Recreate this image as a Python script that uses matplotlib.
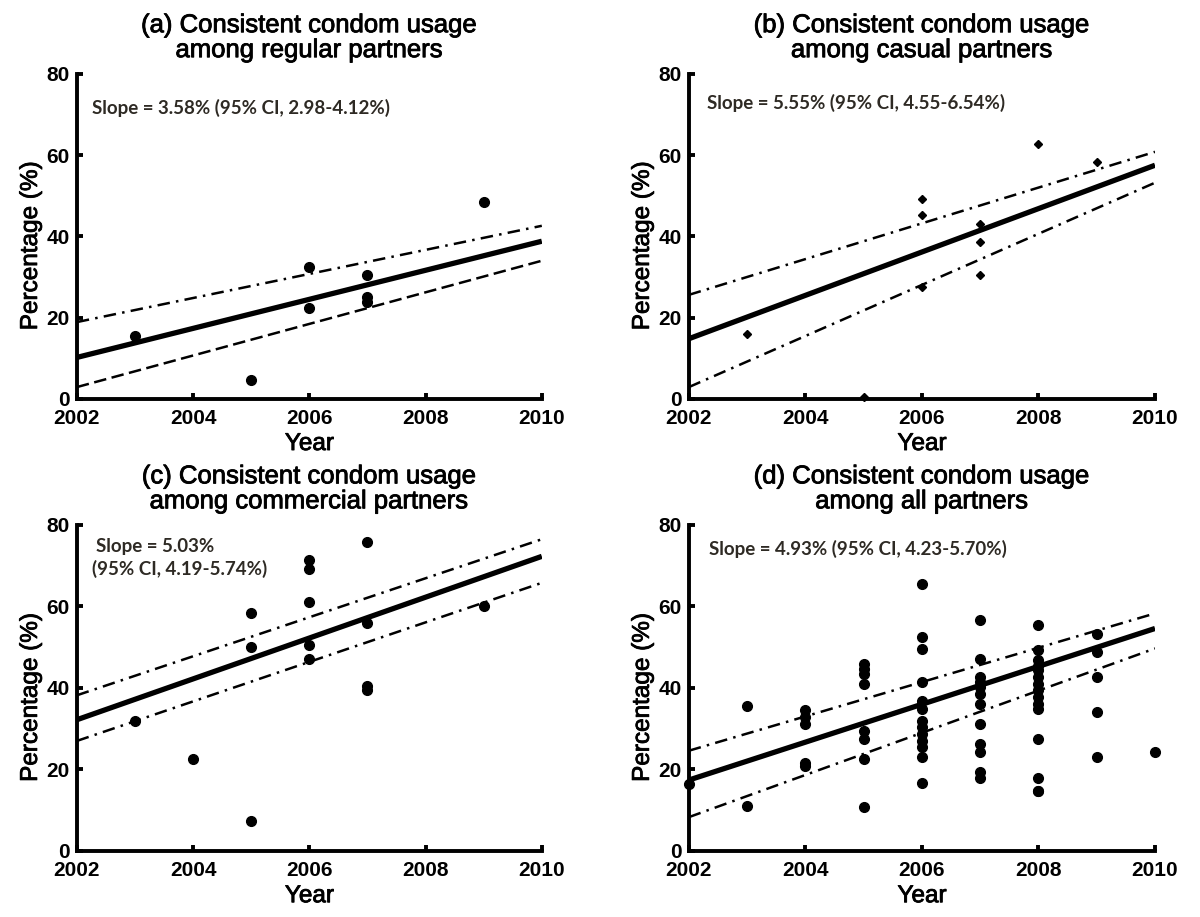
import matplotlib
matplotlib.use('Agg')
import matplotlib.pyplot as plt
import matplotlib.patheffects as pe

# (a) regular partners
a_years = [2003, 2005, 2006, 2006, 2007, 2007, 2007, 2009]
a_vals = [15.6, 4.6, 32.4, 22.3, 30.4, 25.0, 23.9, 48.5]
a_fit = [10.2, 38.8]
a_upper = [18.9, 42.6]
a_lower = [2.9, 34.0]

# (b) casual partners
b_years = [2003, 2005, 2006, 2006, 2006, 2007, 2007, 2007, 2008, 2009]
b_vals = [16.0, 0.5, 49.2, 45.2, 27.6, 43.0, 38.6, 30.4, 62.8, 58.4]
b_fit = [14.8, 57.5]
b_upper = [25.6, 60.8]
b_lower = [2.9, 53.2]

# (c) commercial partners
c_years = [2003, 2004, 2005, 2005, 2005, 2006, 2006, 2006, 2006, 2006,
           2007, 2007, 2007, 2007, 2009]
c_vals = [32.0, 22.6, 58.4, 50.0, 7.3, 71.5, 69.2, 61.2, 50.6, 47.2,
          75.8, 56.0, 40.5, 39.5, 60.0]
c_fit = [32.2, 72.3]
c_upper = [38.2, 76.5]
c_lower = [27.0, 65.8]

# (d) all partners
d_years = [2002,
           2003, 2003,
           2004, 2004, 2004, 2004, 2004,
           2005, 2005, 2005, 2005, 2005, 2005, 2005, 2005,
           2006, 2006, 2006, 2006, 2006, 2006, 2006, 2006, 2006, 2006,
           2006, 2006, 2006,
           2007, 2007, 2007, 2007, 2007, 2007, 2007, 2007, 2007, 2007,
           2007, 2007,
           2008, 2008, 2008, 2008, 2008, 2008, 2008, 2008, 2008, 2008,
           2008, 2008, 2008, 2008, 2008,
           2009, 2009, 2009, 2009, 2009,
           2010]
d_vals = [16.5,
          35.7, 11.1,
          34.5, 32.8, 31.2, 21.5, 20.9,
          45.9, 44.7, 43.5, 41.0, 29.5, 27.5, 22.6, 10.7,
          65.5, 52.5, 49.6, 41.4, 36.9, 34.9, 32.0, 30.4, 28.7, 27.0,
          25.4, 23.0, 16.8,
          56.6, 47.2, 42.7, 41.4, 40.2, 38.6, 36.1, 31.2, 26.2, 24.2,
          19.3, 18.0,
          55.4, 49.2, 46.8, 45.5, 44.3, 42.7, 41.0, 39.4, 37.7, 36.1,
          34.9, 27.5, 18.0, 14.8, 14.8,
          53.3, 48.8, 42.7, 34.0, 23.0,
          24.2]
d_fit = [17.4, 54.6]
d_upper = [24.6, 58.3]
d_lower = [8.3, 49.7]

fit_years = [2002, 2010]
x_ticks = [2002, 2004, 2006, 2008, 2010]
y_ticks = [0, 20, 40, 60, 80]

titles = ['(a) Consistent condom usage\namong regular partners',
          '(b) Consistent condom usage\namong casual partners',
          '(c) Consistent condom usage\namong commercial partners',
          '(d) Consistent condom usage\namong all partners']
# each slope note: list of (x, y, text) lines in data coords
slopes = [
    [(2002.26, 71.6, 'Slope = 3.58% (95% CI, 2.98-4.12%)')],
    [(2002.31, 72.9, 'Slope = 5.55% (95% CI, 4.55-6.54%)')],
    [(2002.33, 74.7, 'Slope = 5.03%'),
     (2002.26, 69.3, '(95% CI, 4.19-5.74%)')],
    [(2002.34, 74.1, 'Slope = 4.93% (95% CI, 4.23-5.70%)')],
]

panels = [
    (a_years, a_vals, a_fit, a_upper, a_lower, 'o', '--'),
    (b_years, b_vals, b_fit, b_upper, b_lower, 'D', '-.'),
    (c_years, c_vals, c_fit, c_upper, c_lower, 'o', '-.'),
    (d_years, d_vals, d_fit, d_upper, d_lower, 'o', '-.'),
]

# axes boxes in figure fractions (left, bottom, width, height)
boxes = [(0.064, 0.565, 0.3875, 0.3545),
         (0.574, 0.565, 0.3885, 0.3545),
         (0.064, 0.072, 0.3875, 0.3555),
         (0.574, 0.072, 0.3885, 0.3555)]

tick_font = ['Liberation Sans', 'DejaVu Sans']
label_font = ['Liberation Sans', 'DejaVu Sans']
slope_font = ['Lato', 'DejaVu Sans']

dashdot = (0, (5, 2.5, 1, 2.5))
dashed = (0, (5, 2.2))
# the scanned figure's text is a bit heavier than plain regular weight
heavy = [pe.withStroke(linewidth=0.6, foreground='black')]

fig = plt.figure(figsize=(12, 9.17), dpi=100)

for i, (yrs, vals, fit, up, lo, mk, lo_style) in enumerate(panels):
    ax = fig.add_axes(boxes[i])
    ms = 4.5 if mk == 'D' else 7
    ax.plot(yrs, vals, linestyle='none', marker=mk, color='black',
            markersize=ms, clip_on=False, zorder=4)
    ax.plot(fit_years, fit, color='black', linewidth=3.8, solid_capstyle='butt',
            zorder=3)
    ax.plot(fit_years, up, color='black', linewidth=1.8, linestyle=dashdot)
    ax.plot(fit_years, lo, color='black', linewidth=1.8,
            linestyle=dashed if lo_style == '--' else dashdot)

    ax.set_xlim(2002, 2010)
    ax.set_ylim(0, 80)
    ax.set_xticks(x_ticks)
    ax.set_yticks(y_ticks)
    ax.spines['top'].set_visible(False)
    ax.spines['right'].set_visible(False)
    for s in ['left', 'bottom']:
        ax.spines[s].set_linewidth(2.8)
        ax.spines[s].set_capstyle('projecting')
    ax.tick_params(direction='in', length=4, width=2.8)
    ax.tick_params(axis='x', pad=7.5)
    ax.tick_params(axis='y', pad=5)
    for lab in ax.get_xticklabels() + ax.get_yticklabels():
        lab.set_family(tick_font)
        lab.set_fontweight('bold')
        lab.set_fontsize(15)

    ax.set_title(titles[i], fontsize=18.5, family=label_font,
                 pad=12, linespacing=1.05, path_effects=heavy)
    ax.set_xlabel('Year', fontsize=17.5, family=label_font, path_effects=heavy)
    ax.set_ylabel('Percentage (%)', fontsize=17.5, family=label_font,
                  path_effects=heavy)
    ax.xaxis.set_label_coords(0.5, -0.105)
    ax.yaxis.set_label_coords(-0.075, 0.47)

    for sx, sy, txt in slopes[i]:
        ax.text(sx, sy, txt, fontsize=13.5, fontweight='bold',
                family=slope_font, color='#2e2a24', va='center', ha='left')

fig.savefig('out.png', dpi=100)
